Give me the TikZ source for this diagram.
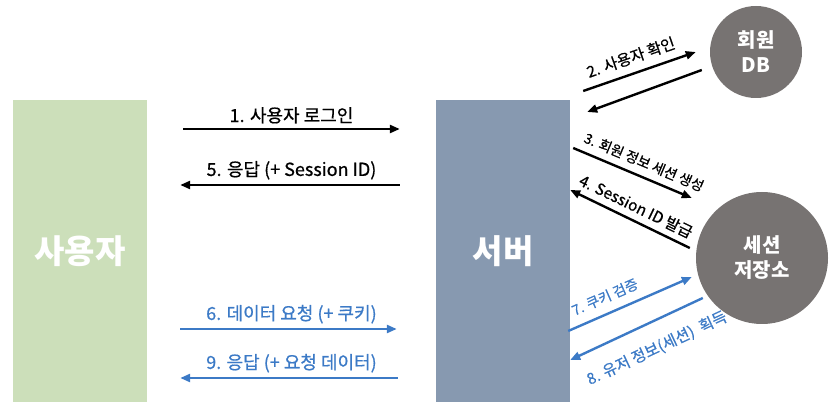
\documentclass[tikz,border=0pt]{standalone}
\usepackage{fontspec}
\setmainfont{Noto Sans CJK KR}
\newfontfamily\medfont[FakeBold=0.7]{Noto Sans CJK KR}
\usepackage{tikz}
\usetikzlibrary{arrows.meta}
\definecolor{usergreen}{RGB}{204,223,186}
\definecolor{serverblue}{RGB}{135,153,176}
\definecolor{storegray}{RGB}{119,115,114}
\definecolor{cookieblue}{RGB}{60,122,198}

\begin{document}
\begin{tikzpicture}[x=1pt,y=1pt,
    box/.style={rectangle, minimum width=134pt, minimum height=302pt, inner sep=0pt,
      text=white, font=\fontsize{33}{36}\selectfont\bfseries},
    store/.style={circle, fill=storegray, inner sep=0pt, text=white, align=center,
      font=\fontsize{20}{25}\selectfont\bfseries},
    arr/.style={line width=2.4pt, -{Triangle[length=10pt,width=8pt]}},
    lbl/.style={font=\fontsize{18}{20}\selectfont\medfont},
    slbl/.style={font=\fontsize{15.5}{17}\selectfont\medfont, sloped, inner sep=2pt},
    sslbl/.style={slbl, font=\fontsize{14}{16}\selectfont\medfont}]
    \useasboundingbox (0,0) rectangle (838,407);
    \node[box, fill=usergreen] (user) at (80,156) {사용자};
    \node[box, fill=serverblue] (server) at (503,156) {서버};
    \node[store, minimum size=92pt] (db) at (756,355) {회원\\DB};
    \node[store, minimum size=132pt] (sess) at (762,149) {세션\\저장소};
    % user <-> server
    \draw[arr, shorten <=36pt, shorten >=36pt] ([yshift=122pt]user.east) -- node[lbl, above=1pt] {1. 사용자 로그인} ([yshift=122pt]server.west);
    \draw[arr, shorten <=36pt, shorten >=33pt] ([yshift=66pt]server.west) -- node[lbl, above=1pt] {5. 응답 (+ Session ID)} ([yshift=66pt]user.east);
    \draw[arr, cookieblue, shorten <=33pt, shorten >=39pt] ([yshift=-78pt]user.east) -- node[lbl, above=1pt] {6. 데이터 요청 (+ 쿠키)} ([yshift=-78pt]server.west);
    \draw[arr, cookieblue, shorten <=38pt, shorten >=33pt] ([yshift=-127pt]server.west) -- node[lbl, above=1pt] {9. 응답 (+ 요청 데이터)} ([yshift=-127pt]user.east);
    % server <-> db
    \draw[arr] ([shift={(13,160)}]server.east) -- node[slbl, above=6pt, pos=0.47] {2. 사용자 확인} ([xshift=-14pt]db.west);
    \draw[arr] ([shift={(-8,-18)}]db.west) -- ([shift={(17,139)}]server.east);
    % server <-> session store
    \draw[arr] ([shift={(3,103)}]server.east) -- node[sslbl, above=5pt, pos=0.55] {3. 회원 정보 세션 생성} ([shift={(-4,60)}]sess.west);
    \draw[arr] ([shift={(-6,10)}]sess.west) -- node[slbl, above=4pt] {4. Session ID 발급} ([yshift=61pt]server.east);
    \draw[arr, cookieblue] ([shift={(-2,-80)}]server.east) -- node[sslbl, above=7pt, pos=0.35, text=cookieblue] {7. 쿠키 검증} ([shift={(-4,-19)}]sess.west);
    \draw[arr, cookieblue] ([shift={(7,-40)}]sess.west) -- node[slbl, below=15pt, pos=0.43, text=cookieblue] {8. 유저 정보(세션)\ \ 획득} ([yshift=-109pt]server.east);
\end{tikzpicture}
\end{document}
